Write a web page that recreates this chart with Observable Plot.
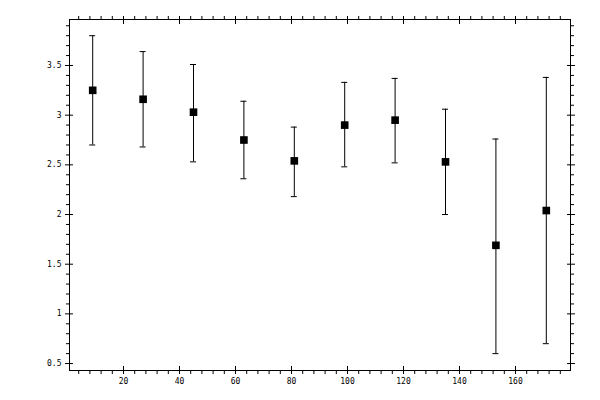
<!DOCTYPE html>
<html><head><meta charset="utf-8">
<script src="https://cdn.jsdelivr.net/npm/d3@7"></script>
<script src="https://cdn.jsdelivr.net/npm/@observablehq/plot@0.6"></script>
<style>html,body{margin:0;padding:0;background:#fff}</style>
</head><body><div id="chart"></div>
<script>
const xs    = [9, 27, 45, 63, 81, 99, 117, 135, 153, 171];
const means = [3.25, 3.16, 3.03, 2.75, 2.54, 2.90, 2.95, 2.53, 1.69, 2.04];
const lows  = [2.70, 2.68, 2.53, 2.36, 2.18, 2.48, 2.52, 2.00, 0.60, 0.70];
const highs = [3.80, 3.64, 3.51, 3.14, 2.88, 3.33, 3.37, 3.06, 2.76, 3.38];
const xMajor = [20, 40, 60, 80, 100, 120, 140, 160];
const yMajor = [0.5, 1, 1.5, 2, 2.5, 3, 3.5];
const xMinor = d3.range(4, 180, 4).filter(d => d % 20 !== 0);
const yMinor = d3.range(5, 40).filter(d => d % 5 !== 0).map(d => d / 10);

const data = xs.map((x, i) => ({x, mean: means[i], low: lows[i], high: highs[i]}));
const blank = () => "";

const chart = Plot.plot({
  width: 600,
  height: 400,
  marginLeft: 69,
  marginRight: 30,
  marginTop: 19,
  marginBottom: 30,
  style: {fontFamily: "DejaVu Sans Mono", fontSize: "8px", color: "black", background: "white"},
  x: {domain: [0.714, 179.64], label: null},
  y: {domain: [0.43, 3.963], label: null},
  marks: [
    Plot.frame({stroke: "black"}),
    // bottom
    Plot.axisX(xMinor, {anchor: "bottom", tickSize: 4, tickFormat: blank, label: null}),
    Plot.axisX(xMajor, {anchor: "bottom", tickSize: 8, dy: -4, tickFormat: blank, label: null}),
    Plot.axisX(xMajor, {anchor: "bottom", tickSize: 0, tickPadding: 8, tickFormat: d => String(d), label: null}),
    // top
    Plot.axisX(xMinor, {anchor: "top", tickSize: 4, tickFormat: blank, label: null}),
    Plot.axisX(xMajor, {anchor: "top", tickSize: 8, dy: 4, tickFormat: blank, label: null}),
    // left
    Plot.axisY(yMinor, {anchor: "left", tickSize: 3, tickFormat: blank, label: null}),
    Plot.axisY(yMajor, {anchor: "left", tickSize: 8, dx: 4, tickFormat: blank, label: null}),
    Plot.axisY(yMajor, {anchor: "left", tickSize: 0, tickPadding: 8, tickFormat: d => String(d), label: null}),
    // right
    Plot.axisY(yMinor, {anchor: "right", tickSize: 3, tickFormat: blank, label: null}),
    Plot.axisY(yMajor, {anchor: "right", tickSize: 8, dx: -4, tickFormat: blank, label: null}),
    // error bars
    Plot.ruleX(data, {x: "x", y1: "low", y2: "high", stroke: "black"}),
    Plot.ruleY(data, {y: "low", x1: "x", x2: "x", insetLeft: -3, insetRight: -3, stroke: "black"}),
    Plot.ruleY(data, {y: "high", x1: "x", x2: "x", insetLeft: -3, insetRight: -3, stroke: "black"}),
    Plot.dot(data, {x: "x", y: "mean", symbol: "square", r: 4.3, fill: "black", stroke: null})
  ]
});
document.getElementById("chart").appendChild(chart);
</script>
</body></html>
